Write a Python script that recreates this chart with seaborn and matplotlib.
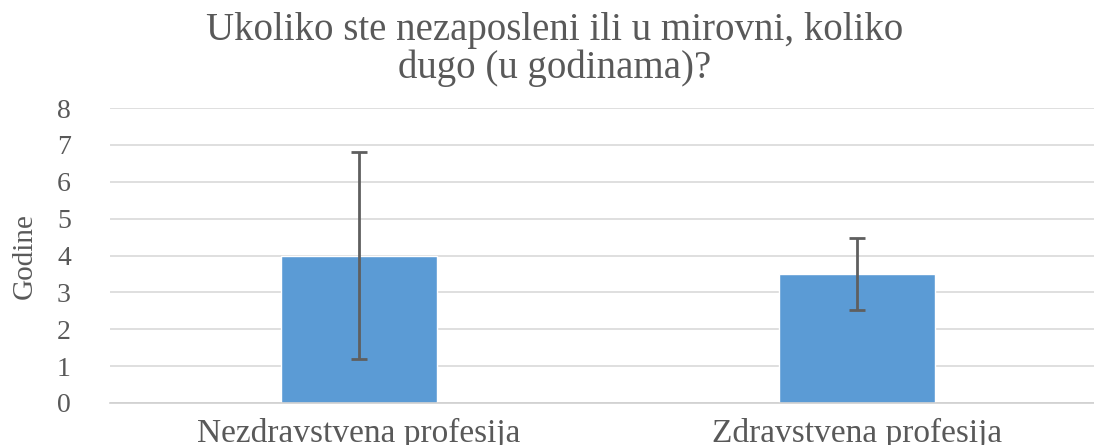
import matplotlib
matplotlib.use("Agg")
import matplotlib.pyplot as plt
import seaborn as sns

categories = ["Nezdravstvena profesija", "Zdravstvena profesija"]
means = [4.0, 3.5]
errors = [2.8, 0.97]
y_ticks = [0, 1, 2, 3, 4, 5, 6, 7, 8]

title = "Ukoliko ste nezaposleni ili u mirovni, koliko\ndugo (u godinama)?"
ylabel = "Godine"

sns.set_style("white")
plt.rcParams["font.family"] = ["Liberation Serif", "DejaVu Serif"]

fig = plt.figure(figsize=(10.94, 4.45), dpi=100)
ax = fig.add_axes([0.1003, 0.0944, 0.9107, 0.6626])

sns.barplot(x=categories, y=means, color="#5B9BD5", width=0.313,
            saturation=1, ax=ax, zorder=2)
ax.errorbar(x=range(len(categories)), y=means, yerr=errors, fmt="none",
            ecolor="#5F5F5F", elinewidth=2, capsize=6, capthick=2, zorder=3)

ax.set_xlim(-0.5, 1.5)
ax.set_ylim(0, 8)
ax.set_yticks(y_ticks)
ax.grid(axis="y", color="#D9D9D9", linewidth=1.2, zorder=0)
ax.set_axisbelow(True)
for s in ["left", "right", "top"]:
    ax.spines[s].set_visible(False)
ax.spines["bottom"].set_color("#D0D0D0")
ax.spines["bottom"].set_linewidth(1.2)

ax.tick_params(axis="y", length=0, pad=28, labelsize=20, labelcolor="#595959")
ax.tick_params(axis="x", length=0, pad=11, labelsize=24, labelcolor="#595959")
ax.set_xlabel("")
ax.set_ylabel(ylabel, fontsize=21, color="#595959", labelpad=14)

fig.text(0.507, 0.972, title, ha="center", va="top", fontsize=28,
         color="#595959", linespacing=1.0)

fig.savefig("out.png", dpi=100)
